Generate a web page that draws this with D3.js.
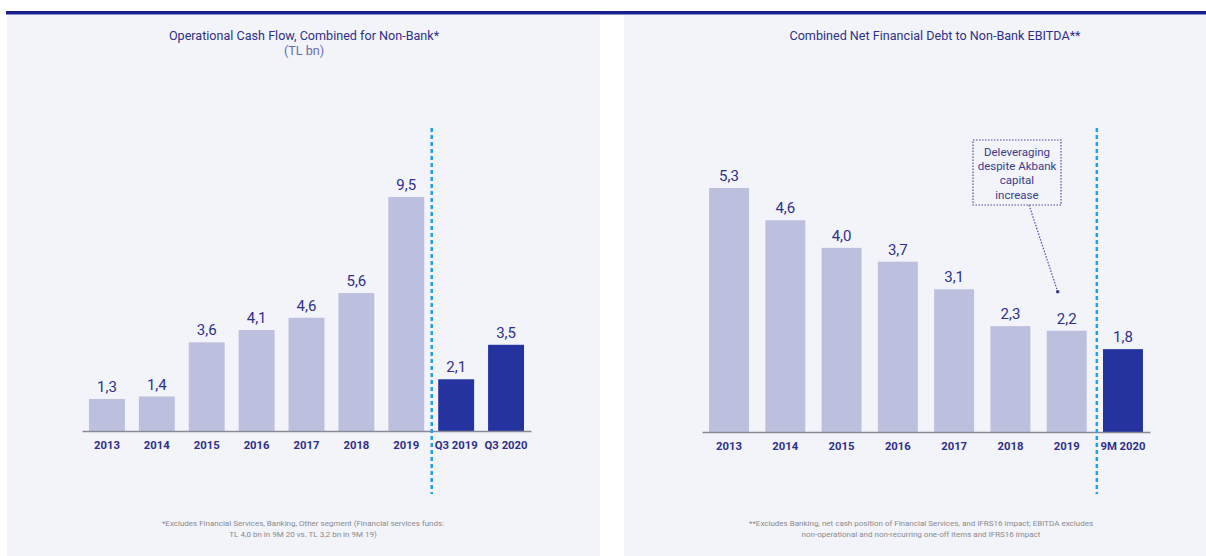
<!DOCTYPE html>
<html>
<head>
<meta charset="utf-8">
<script src="https://cdn.jsdelivr.net/npm/d3@7"></script>
<style>
  html, body { margin: 0; padding: 0; background: #ffffff; }
  svg { display: block; font-family: Roboto, "Noto Sans", sans-serif; }
</style>
</head>
<body>
<svg id="chart" width="1206" height="556"></svg>
<script>
// left chart data
const cashCategories = ['2013', '2014', '2015', '2016', '2017', '2018', '2019', 'Q3 2019', 'Q3 2020'];
const cashValues = [1.3, 1.4, 3.6, 4.1, 4.6, 5.6, 9.5, 2.1, 3.5];
const cashHighlight = ['Q3 2019', 'Q3 2020'];

// right chart data
const debtCategories = ['2013', '2014', '2015', '2016', '2017', '2018', '2019', '9M 2020'];
const debtValues = [5.3, 4.6, 4.0, 3.7, 3.1, 2.3, 2.2, 1.8];
const debtHighlight = ['9M 2020'];

const titleColor = '#2e2f8c';
const lightBar = '#bcc0de';
const darkBar = '#2433a0';
const fmt = v => v.toFixed(1).replace('.', ',');

const svg = d3.select('#chart');

// top rule
svg.append('rect').attr('x', 6).attr('y', 11).attr('width', 1200).attr('height', 3).attr('fill', '#1b1f8a');
svg.append('rect').attr('x', 6).attr('y', 14).attr('width', 1200).attr('height', 1).attr('fill', '#8a8fc8');

function drawPanel(opts) {
  const g = svg.append('g');
  g.append('rect')
    .attr('x', opts.panel[0]).attr('y', 15)
    .attr('width', opts.panel[1] - opts.panel[0]).attr('height', 541)
    .attr('fill', '#f3f4fa');

  const tcx = opts.titleX;
  g.append('text').attr('x', tcx).attr('y', 40).attr('text-anchor', 'middle')
    .style('font-size', '12.6px').attr('fill', titleColor).text(opts.title);
  if (opts.subtitle) {
    g.append('text').attr('x', tcx).attr('y', 55).attr('text-anchor', 'middle')
      .style('font-size', '12.6px').attr('fill', '#6a6ba8').text(opts.subtitle);
  }

  const x = d3.scaleBand()
    .domain(opts.categories)
    .range(opts.xRange)
    .paddingInner(opts.padIn)
    .paddingOuter(opts.padOut);

  const y = d3.scaleLinear()
    .domain([0, d3.max(opts.values)])
    .range([opts.baseY, opts.topY]);

  const data = opts.categories.map((c, i) => ({ c, v: opts.values[i] }));

  g.selectAll('.bar')
    .data(data)
    .enter()
    .append('rect')
    .attr('x', d => x(d.c))
    .attr('y', d => y(d.v))
    .attr('width', x.bandwidth())
    .attr('height', d => y(0) - y(d.v))
    .attr('fill', d => opts.highlight.includes(d.c) ? darkBar : lightBar);

  g.selectAll('.val')
    .data(data)
    .enter()
    .append('text')
    .attr('x', d => x(d.c) + x.bandwidth() / 2)
    .attr('y', d => y(d.v) - 7)
    .attr('text-anchor', 'middle')
    .style('font-size', '15px')
    .attr('fill', titleColor)
    .text(d => fmt(d.v));

  // axis
  const axis = g.append('g')
    .attr('transform', `translate(0,${opts.baseY})`)
    .call(d3.axisBottom(x).tickSize(0).tickPadding(10));
  axis.select('.domain').attr('stroke', '#8a8a96').attr('stroke-width', 1.3);
  axis.selectAll('text')
    .style('font-size', '11.3px')
    .style('font-weight', 'bold')
    .style('font-family', 'Roboto, sans-serif')
    .attr('fill', titleColor);

  // dashed separator
  const firstHi = opts.highlight[0];
  const prev = opts.categories[opts.categories.indexOf(firstHi) - 1];
  const sepX = (x(prev) + x.bandwidth() + x(firstHi)) / 2 + opts.sepShift;
  g.append('line')
    .attr('x1', sepX).attr('x2', sepX)
    .attr('y1', 128).attr('y2', 494)
    .attr('stroke', '#1ea0f0')
    .attr('stroke-width', 2.5)
    .attr('stroke-dasharray', '4,3');

  // footnote
  opts.notes.forEach((line, i) => {
    g.append('text')
      .attr('x', opts.noteX).attr('y', 526 + i * 10.5)
      .attr('text-anchor', 'middle')
      .style('font-size', '8px')
      .attr('fill', '#8a8a8a')
      .text(line);
  });

  return { g, x, y };
}

drawPanel({
  panel: [7, 600],
  title: 'Operational Cash Flow, Combined for Non-Bank*',
  subtitle: '(TL bn)',
  titleX: 304,
  categories: cashCategories,
  values: cashValues,
  highlight: cashHighlight,
  xRange: [82, 531],
  padIn: 0.28,
  padOut: 0.14,
  baseY: 431,
  topY: 197,
  sepShift: 0.5,
  noteX: 303,
  notes: ['*Excludes Financial Services, Banking, Other segment (Financial services funds:',
          'TL 4,0 bn in 9M 20 vs. TL 3,2 bn in 9M 19)']
});

const right = drawPanel({
  panel: [624, 1206],
  title: 'Combined Net Financial Debt to Non-Bank EBITDA**',
  subtitle: null,
  titleX: 935,
  categories: debtCategories,
  values: debtValues,
  highlight: debtHighlight,
  xRange: [702, 1150],
  padIn: 0.29,
  padOut: 0.125,
  baseY: 432,
  topY: 188,
  sepShift: 2,
  noteX: 921,
  notes: ['**Excludes Banking, net cash position of Financial Services, and IFRS16 impact; EBITDA excludes',
          'non-operational and non-recurring one-off items and IFRS16 impact']
});

// annotation
const annLines = ['Deleveraging', 'despite Akbank', 'capital', 'increase'];
const ann = right.g.append('g');
ann.append('rect')
  .attr('x', 973).attr('y', 140).attr('width', 88).attr('height', 65)
  .attr('fill', 'none')
  .attr('stroke', '#4a4c9e')
  .attr('stroke-width', 1.2)
  .attr('stroke-dasharray', '1.5,1.5');
annLines.forEach((t, i) => {
  ann.append('text')
    .attr('x', 1017).attr('y', 156 + i * 14.2)
    .attr('text-anchor', 'middle')
    .style('font-size', '11.5px')
    .attr('fill', '#3a3b8c')
    .text(t);
});
const tipX = right.x('2019') + right.x.bandwidth() / 2 - 9;
const tipY = right.y(2.2) - 39;
ann.append('line')
  .attr('x1', 1029).attr('y1', 205)
  .attr('x2', tipX).attr('y2', tipY)
  .attr('stroke', '#4a4c9e')
  .attr('stroke-width', 1.2)
  .attr('stroke-dasharray', '1.5,1.5');
ann.append('circle').attr('cx', tipX).attr('cy', tipY).attr('r', 1.8).attr('fill', '#3a3b8c');
</script>
</body>
</html>
